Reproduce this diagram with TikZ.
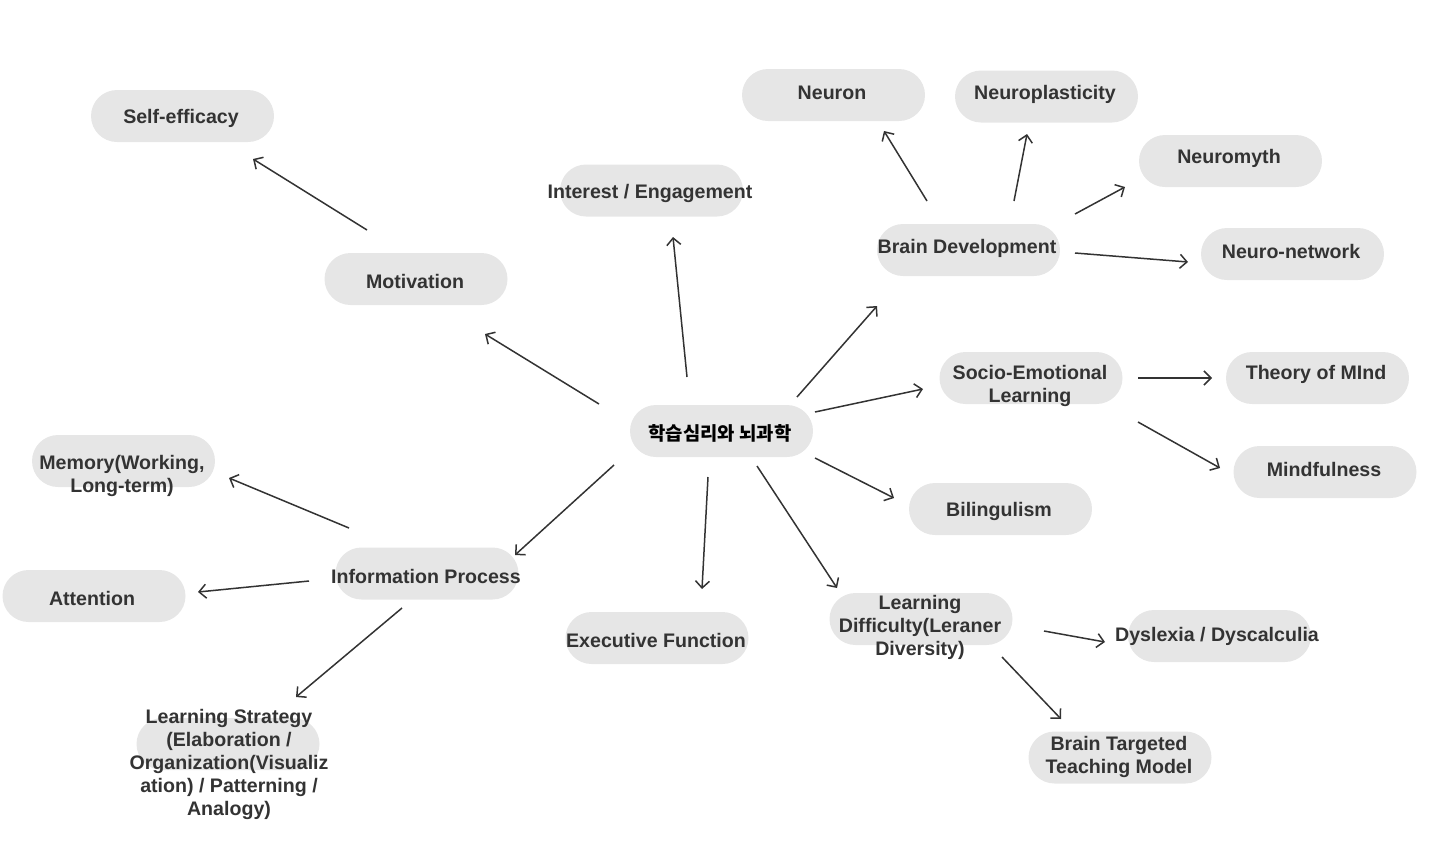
\documentclass[tikz,border=0pt]{standalone}
\usepackage{fontspec}
\setmainfont{Liberation Sans}
\newfontfamily\cjk{Noto Sans CJK KR}
\usetikzlibrary{arrows.meta}

\definecolor{pillgray}{HTML}{E6E6E6}
\definecolor{ink}{HTML}{333333}

\tikzset{
  pill/.style={fill=pillgray, rounded corners=13pt, minimum width=91.5pt,
               minimum height=26pt, inner sep=0pt},
  lbl/.style={text=ink, font=\bfseries\fontsize{9.8}{11.5}\selectfont,
              align=center, inner sep=0pt, yshift=-0.8pt},
  arr/.style={draw=ink, line width=0.75pt,
              -{Straight Barb[length=3.5pt,width=7pt]}}
}

\begin{document}
\begin{tikzpicture}[x=0.5pt, y=-0.5pt]
  \useasboundingbox (0,0) rectangle (1445,847);

  % pills
  \node[pill] (p-center)   at (721.5,431) {};
  \node[pill] (p-selfeff)  at (182.5,116) {};
  \node[pill] (p-motiv)    at (416,279)   {};
  \node[pill] (p-interest) at (651.5,190.5) {};
  \node[pill] (p-neuron)   at (833.5,95)  {};
  \node[pill] (p-plastic)  at (1046.5,96.5) {};
  \node[pill] (p-myth)     at (1230.5,161) {};
  \node[pill] (p-brain)    at (968.5,250) {};
  \node[pill] (p-network)  at (1292.5,254) {};
  \node[pill] (p-socio)    at (1031,378)  {};
  \node[pill] (p-theory)   at (1317.5,378) {};
  \node[pill] (p-mindful)  at (1325,472)  {};
  \node[pill] (p-biling)   at (1000.5,509) {};
  \node[pill] (p-memory)   at (123.5,461) {};
  \node[pill] (p-info)     at (427,573.5) {};
  \node[pill] (p-attent)   at (94,596)    {};
  \node[pill] (p-exec)     at (657,638)   {};
  \node[pill] (p-strategy) at (228,744)   {};
  \node[pill] (p-ld)       at (921,619)   {};
  \node[pill] (p-dyslex)   at (1219.5,636) {};
  \node[pill] (p-btm)      at (1120,757.5) {};

  % labels
  \node[lbl, text=black, font=\cjk\bfseries\fontsize{9.4}{11}\selectfont] (center) at (720,432) {학습심리와 뇌과학};
  \node[lbl] (selfeff)  at (181,117)  {Self-efficacy};
  \node[lbl] (motiv)    at (415,280)  {Motivation};
  \node[lbl] (interest) at (650,192)  {Interest / Engagement};
  \node[lbl] (neuron)   at (832,91)   {Neuron};
  \node[lbl] (plastic)  at (1045,93)  {Neuroplasticity};
  \node[lbl] (myth)     at (1229,157) {Neuromyth};
  \node[lbl] (brain)    at (967,247)  {Brain Development};
  \node[lbl] (network)  at (1291,250) {Neuro-network};
  \node[lbl] (socio)    at (1030,384.5) {Socio-Emotional\\Learning};
  \node[lbl] (theory)   at (1316,373) {Theory of MInd};
  \node[lbl] (mindful)  at (1324,468) {Mindfulness};
  \node[lbl] (biling)   at (999,510)  {Bilingulism};
  \node[lbl] (memory)   at (122,474)  {Memory(Working,\\Long-term)};
  \node[lbl] (info)     at (426,575)  {Information Process};
  \node[lbl] (attent)   at (92,597)   {Attention};
  \node[lbl] (exec)     at (656,639)  {Executive Function};
  \node[lbl] (strategy) at (229,762.5) {Learning Strategy\\(Elaboration /\\Organization(Visualiz\\ation) / Patterning /\\Analogy)};
  \node[lbl] (ld)       at (920,625.5) {Learning\\Difficulty(Leraner\\Diversity)};
  \node[lbl] (dyslex)   at (1217,635) {Dyslexia / Dyscalculia};
  \node[lbl] (btm)      at (1119,755.5) {Brain Targeted\\Teaching Model};

  % arrow ends
  \coordinate (motiv-s)  at (367,230);  \coordinate (selfeff-e) at (253,159);
  \coordinate (c-motiv)  at (599,404);  \coordinate (motiv-e)   at (485,334);
  \coordinate (c-int)    at (687,377);  \coordinate (interest-e) at (673,237);
  \coordinate (c-brain)  at (797,397);  \coordinate (brain-e)   at (877,306);
  \coordinate (c-socio)  at (815,412);  \coordinate (socio-e)   at (923,389);
  \coordinate (c-biling) at (815,458);  \coordinate (biling-e)  at (894,498);
  \coordinate (c-ld)     at (757,466);  \coordinate (ld-e)      at (837,588);
  \coordinate (c-exec)   at (708,477);  \coordinate (exec-e)    at (702,589);
  \coordinate (c-info)   at (614,465);  \coordinate (info-e)    at (515,555);
  \coordinate (brain-s1) at (927,201);  \coordinate (neuron-e)  at (884,131);
  \coordinate (brain-s2) at (1014,201); \coordinate (plastic-e) at (1027,134);
  \coordinate (brain-s3) at (1075,214); \coordinate (myth-e)    at (1125,187);
  \coordinate (brain-s4) at (1075,253); \coordinate (network-e) at (1188,262);
  \coordinate (socio-s1) at (1138,378); \coordinate (theory-e)  at (1212,378);
  \coordinate (socio-s2) at (1138,422); \coordinate (mindful-e) at (1220,468);
  \coordinate (info-s1)  at (349,528);  \coordinate (memory-e)  at (229,478);
  \coordinate (info-s2)  at (309,581);  \coordinate (attent-e)  at (198,592);
  \coordinate (info-s3)  at (402,608);  \coordinate (strategy-e) at (296,697);
  \coordinate (ld-s1)    at (1044,631); \coordinate (dyslex-e)  at (1105,642);
  \coordinate (ld-s2)    at (1002,657); \coordinate (btm-e)     at (1061,719);

  % arrows
  \foreach \s/\e in {motiv-s/selfeff-e, c-motiv/motiv-e, c-int/interest-e,
                     c-brain/brain-e, c-socio/socio-e, c-biling/biling-e,
                     c-ld/ld-e, c-exec/exec-e, c-info/info-e,
                     brain-s1/neuron-e, brain-s2/plastic-e, brain-s3/myth-e,
                     brain-s4/network-e, socio-s1/theory-e, socio-s2/mindful-e,
                     info-s1/memory-e, info-s2/attent-e, info-s3/strategy-e,
                     ld-s1/dyslex-e, ld-s2/btm-e}
    \draw[arr] (\s) -- (\e);
\end{tikzpicture}
\end{document}
